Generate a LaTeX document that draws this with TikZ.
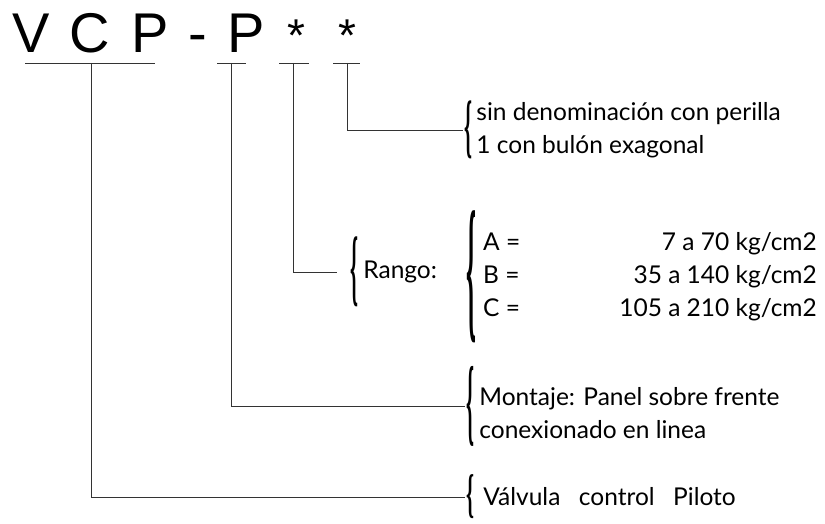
\documentclass[tikz,border=0pt]{standalone}
\usepackage{fontspec}
\setmainfont{Lato}
\newfontfamily\titlefont{Liberation Sans}
\newfontfamily\llavefont{Liberation Serif}
\usetikzlibrary{positioning}
\newcommand{\llaveizq}[2]{\resizebox*{#1}{#2}{\llavefont\bfseries\{}}

\begin{document}
\begin{tikzpicture}[x=1pt,y=-1pt,
    letra/.style={font=\titlefont\fontsize{56}{60}\selectfont, inner sep=0pt, anchor=base},
    txt/.style={font=\fontsize{24.5}{33}\selectfont, inner sep=0pt, anchor=west, align=left},
    llave/.style={inner sep=1pt},
    linea/.style={line width=0.8pt, black!80}]
    \useasboundingbox (0,0) rectangle (825,524);
    % Codigo
    \node[letra] (V) at (31,53) {V};
    \node[letra] (C) at (90,53) {C};
    \node[letra] (P1) at (150,53) {P};
    \node[letra] (guion) at (198,53) {-};
    \node[letra] (P2) at (246,53) {P};
    \node[letra, anchor=center, font=\titlefont\fontsize{46}{50}\selectfont] (ast1) at (296,36) {*};
    \node[letra, anchor=center, font=\titlefont\fontsize{46}{50}\selectfont] (ast2) at (347,36) {*};
    % Subrayados
    \coordinate (uVCP) at (91,63);
    \coordinate (uP) at (231,63);
    \coordinate (uA1) at (293,63);
    \coordinate (uA2) at (347,63);
    \draw[linea] ([xshift=-66pt]uVCP) -- ([xshift=64pt]uVCP);
    \draw[linea] ([xshift=-14pt]uP) -- ([xshift=15pt]uP);
    \draw[linea] ([xshift=-14pt]uA1) -- ([xshift=16pt]uA1);
    \draw[linea] ([xshift=-14pt]uA2) -- ([xshift=13pt]uA2);
    % Perilla / bulon
    \node[llave] (bSin) at (468,130) {\llaveizq{8pt}{58pt}};
    \node[txt, right=3pt of bSin] (tSin) {sin denominación con perilla\\1 con bulón exagonal};
    \draw[linea] (uA2) |- (bSin.west);
    % Rango
    \node[llave] (bRango) at (354,272) {\llaveizq{8pt}{70pt}};
    \node[txt, right=4pt of bRango] (rango) {Rango:};
    \node[llave] (bABC) at (471,277) {\llaveizq{10pt}{132pt}};
    \node[txt, anchor=base west] (A) at (483,250) {A =};
    \node[txt, anchor=base west] (B) at (483,283) {B =};
    \node[txt, anchor=base west] (Cc) at (483,316) {C =};
    \node[txt, anchor=base east] (vA) at (A.base -| 817,0) {7 a 70 kg/cm2};
    \node[txt, anchor=base east] (vB) at (B.base -| 817,0) {35 a 140 kg/cm2};
    \node[txt, anchor=base east] (vC) at (Cc.base -| 817,0) {105 a 210 kg/cm2};
    \draw[linea, shorten >=12pt] (uA1) |- (bRango.west);
    % Montaje
    \node[llave] (bMon) at (470,406) {\llaveizq{8pt}{80pt}};
    \node[txt, right=4pt of bMon, yshift=-7pt] (tMon) {Montaje: Panel sobre frente\\conexionado en linea};
    \draw[linea] (uP) |- (bMon.west);
    % Valvula
    \node[llave] (bVal) at (470,497) {\llaveizq{8pt}{44pt}};
    \node[txt, right=8pt of bVal] (tVal) {Válvula\hspace{0.5em} control\hspace{0.5em} Piloto};
    \draw[linea] (uVCP) |- (bVal.west);
\end{tikzpicture}
\end{document}
